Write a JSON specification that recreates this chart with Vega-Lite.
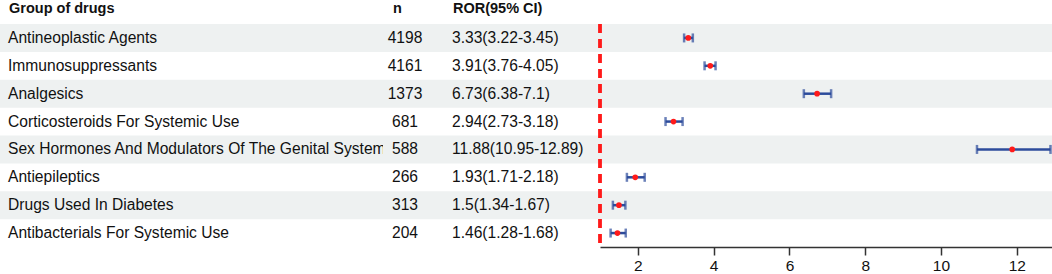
{
  "$schema": "https://vega.github.io/schema/vega-lite/v6.json",
  "padding": 0,
  "spacing": 0,
  "bounds": "flush",
  "background": "white",
  "config": {
    "view": {"stroke": null},
    "font": "Liberation Sans",
    "title": {"fontSize": 14.5, "fontWeight": "bold", "color": "#111111", "anchor": "start", "frame": "group", "offset": 8}
  },
  "data": {
    "values": [
      {"group": "Antineoplastic Agents", "n": 4198, "ror": 3.33, "lo": 3.22, "hi": 3.45, "label": "3.33(3.22-3.45)"},
      {"group": "Immunosuppressants", "n": 4161, "ror": 3.91, "lo": 3.76, "hi": 4.05, "label": "3.91(3.76-4.05)"},
      {"group": "Analgesics", "n": 1373, "ror": 6.73, "lo": 6.38, "hi": 7.1, "label": "6.73(6.38-7.1)"},
      {"group": "Corticosteroids For Systemic Use", "n": 681, "ror": 2.94, "lo": 2.73, "hi": 3.18, "label": "2.94(2.73-3.18)"},
      {"group": "Sex Hormones And Modulators Of The Genital System", "n": 588, "ror": 11.88, "lo": 10.95, "hi": 12.89, "label": "11.88(10.95-12.89)"},
      {"group": "Antiepileptics", "n": 266, "ror": 1.93, "lo": 1.71, "hi": 2.18, "label": "1.93(1.71-2.18)"},
      {"group": "Drugs Used In Diabetes", "n": 313, "ror": 1.5, "lo": 1.34, "hi": 1.67, "label": "1.5(1.34-1.67)"},
      {"group": "Antibacterials For Systemic Use", "n": 204, "ror": 1.46, "lo": 1.28, "hi": 1.68, "label": "1.46(1.28-1.68)"}
    ]
  },
  "transform": [
    {"window": [{"op": "row_number", "as": "idx"}]}
  ],
  "hconcat": [
    {
      "width": 383, "height": 223,
      "title": {"text": "Group of drugs", "dx": 9},
      "layer": [
        {"transform": [{"filter": "datum.idx % 2 == 1"}],
         "mark": {"type": "rect", "color": "#eef1f1"},
         "encoding": {"y": {"field": "group", "type": "nominal", "sort": null, "axis": null, "scale": {"domain": ["Antineoplastic Agents", "Immunosuppressants", "Analgesics", "Corticosteroids For Systemic Use", "Sex Hormones And Modulators Of The Genital System", "Antiepileptics", "Drugs Used In Diabetes", "Antibacterials For Systemic Use"], "paddingInner": 0, "paddingOuter": 0}}}},
        {"mark": {"type": "text", "align": "left", "baseline": "middle", "fontSize": 15.6, "color": "#111111", "clip": true},
         "encoding": {
           "y": {"field": "group", "type": "nominal", "sort": null, "axis": null},
           "x": {"value": 8},
           "text": {"field": "group"}}}
      ]
    },
    {
      "width": 57, "height": 223,
      "title": {"text": "n", "dx": 10},
      "layer": [
        {"transform": [{"filter": "datum.idx % 2 == 1"}],
         "mark": {"type": "rect", "color": "#eef1f1"},
         "encoding": {"y": {"field": "group", "type": "nominal", "sort": null, "axis": null, "scale": {"domain": ["Antineoplastic Agents", "Immunosuppressants", "Analgesics", "Corticosteroids For Systemic Use", "Sex Hormones And Modulators Of The Genital System", "Antiepileptics", "Drugs Used In Diabetes", "Antibacterials For Systemic Use"], "paddingInner": 0, "paddingOuter": 0}}}},
        {"mark": {"type": "text", "align": "center", "baseline": "middle", "fontSize": 15.6, "color": "#111111"},
         "encoding": {
           "y": {"field": "group", "type": "nominal", "sort": null, "axis": null},
           "x": {"value": 22},
           "text": {"field": "n"}}}
      ]
    },
    {
      "width": 160, "height": 223,
      "title": {"text": "ROR(95% CI)", "dx": 13},
      "layer": [
        {"transform": [{"filter": "datum.idx % 2 == 1"}],
         "mark": {"type": "rect", "color": "#eef1f1"},
         "encoding": {"y": {"field": "group", "type": "nominal", "sort": null, "axis": null, "scale": {"domain": ["Antineoplastic Agents", "Immunosuppressants", "Analgesics", "Corticosteroids For Systemic Use", "Sex Hormones And Modulators Of The Genital System", "Antiepileptics", "Drugs Used In Diabetes", "Antibacterials For Systemic Use"], "paddingInner": 0, "paddingOuter": 0}}}},
        {"mark": {"type": "text", "align": "left", "baseline": "middle", "fontSize": 15.6, "color": "#111111"},
         "encoding": {
           "y": {"field": "group", "type": "nominal", "sort": null, "axis": null},
           "x": {"value": 12},
           "text": {"field": "label"}}}
      ]
    },
    {
      "width": 452, "height": 223,
      "layer": [
        {"transform": [{"filter": "datum.idx % 2 == 1"}],
         "mark": {"type": "rect", "color": "#eef1f1"},
         "encoding": {"y": {"field": "group", "type": "nominal", "sort": null, "axis": null, "scale": {"domain": ["Antineoplastic Agents", "Immunosuppressants", "Analgesics", "Corticosteroids For Systemic Use", "Sex Hormones And Modulators Of The Genital System", "Antiepileptics", "Drugs Used In Diabetes", "Antibacterials For Systemic Use"], "paddingInner": 0, "paddingOuter": 0}}}},
        {"mark": {"type": "rule", "color": "#ff1a1a", "strokeWidth": 2.5, "strokeDash": [9, 6]},
         "encoding": {"x": {"datum": 1, "type": "quantitative"}}},
        {"mark": {"type": "errorbar", "ticks": {"size": 9, "thickness": 2.5, "color": "#2c4b9b"}, "thickness": 2.5, "color": "#2c4b9b"},
         "encoding": {
           "y": {"field": "group", "type": "nominal", "sort": null, "axis": null},
           "x": {"field": "lo", "type": "quantitative"},
           "x2": {"field": "hi"}}},
        {"mark": {"type": "circle", "color": "#ff1a1a", "opacity": 1, "size": 32},
         "encoding": {
           "y": {"field": "group", "type": "nominal", "sort": null, "axis": null},
           "x": {"field": "ror", "type": "quantitative",
                 "scale": {"domain": [1, 12.93], "nice": false, "zero": false},
                 "axis": {"title": null, "values": [2, 4, 6, 8, 10, 12], "grid": false, "domainColor": "#333333", "domainWidth": 1.5, "tickColor": "#333333", "tickWidth": 1.5, "tickSize": 8, "labelFontSize": 15.5, "labelColor": "#111111", "labelPadding": 3, "labelFont": "Liberation Sans"}}}}
      ]
    }
  ]
}
